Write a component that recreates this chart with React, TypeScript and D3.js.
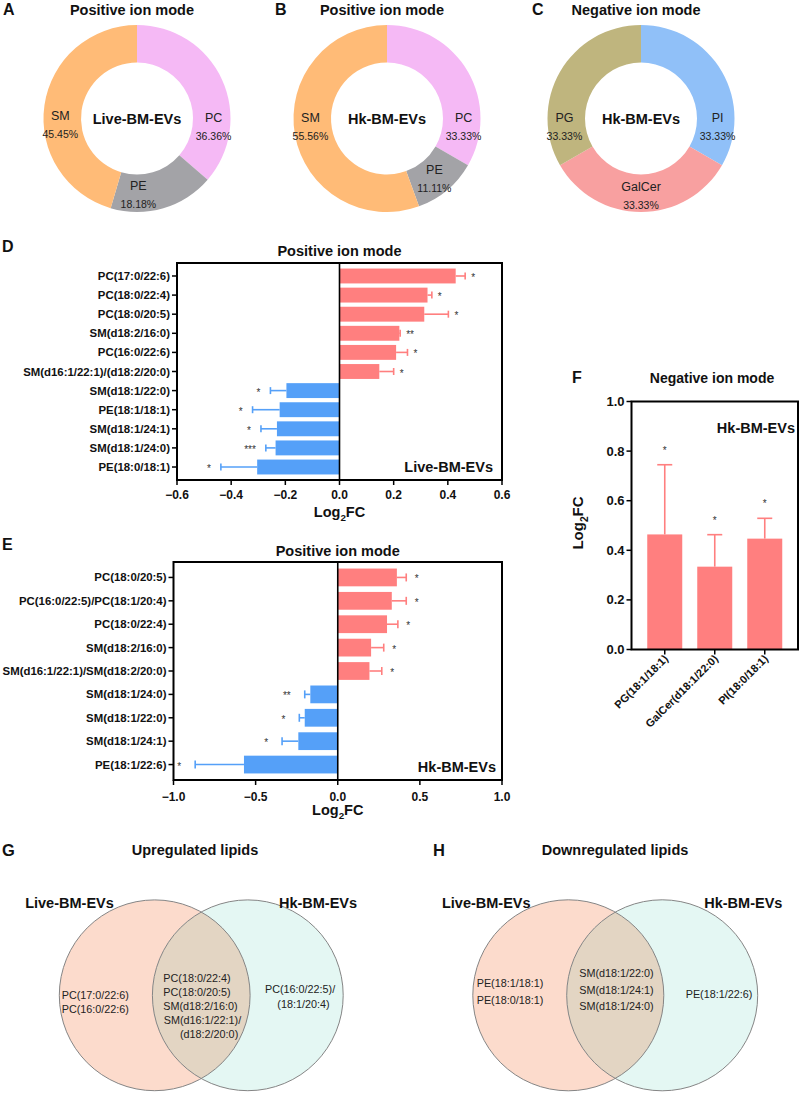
import React from 'react';
import * as d3 from 'd3';

const FONT = '"Liberation Sans", Arial, Helvetica, sans-serif';

// ---------- Donut data ----------
const donutACats = ['PC', 'PE', 'SM'];
const donutAValues = [36.36, 18.18, 45.45];
const donutBCats = ['PC', 'PE', 'SM'];
const donutBValues = [33.33, 11.11, 55.56];
const donutCCats = ['PI', 'GalCer', 'PG'];
const donutCValues = [33.33, 33.33, 33.33];

const classColors: Record<string, string> = {
  SM: '#FFBB77', PC: '#F5B9F5', PE: '#A3A3A7', PI: '#90C0F8', GalCer: '#F8A0A0', PG: '#BFB57E',
};

// ---------- Panel D data ----------
const catsD = ['PC(17:0/22:6)', 'PC(18:0/22:4)', 'PC(18:0/20:5)', 'SM(d18:2/16:0)', 'PC(16:0/22:6)',
  'SM(d16:1/22:1)/(d18:2/20:0)', 'SM(d18:1/22:0)', 'PE(18:1/18:1)', 'SM(d18:1/24:1)', 'SM(d18:1/24:0)', 'PE(18:0/18:1)'];
const valuesD = [0.429, 0.325, 0.313, 0.221, 0.209, 0.147, -0.196, -0.221, -0.231, -0.236, -0.304];
const errD = [0.035, 0.016, 0.089, 0.003, 0.042, 0.053, 0.059, 0.100, 0.059, 0.036, 0.134];
const sigD = ['*', '*', '*', '**', '*', '*', '*', '*', '*', '***', '*'];
const ticksD = [-0.6, -0.4, -0.2, 0.0, 0.2, 0.4, 0.6];

// ---------- Panel E data ----------
const catsE = ['PC(18:0/20:5)', 'PC(16:0/22:5)/PC(18:1/20:4)', 'PC(18:0/22:4)', 'SM(d18:2/16:0)',
  'SM(d16:1/22:1)/SM(d18:2/20:0)', 'SM(d18:1/24:0)', 'SM(d18:1/22:0)', 'SM(d18:1/24:1)', 'PE(18:1/22:6)'];
const valuesE = [0.36, 0.329, 0.30, 0.203, 0.193, -0.167, -0.201, -0.24, -0.571];
const errE = [0.057, 0.088, 0.066, 0.077, 0.075, 0.034, 0.033, 0.099, 0.297];
const sigE = ['*', '*', '*', '*', '*', '**', '*', '*', '*'];
const ticksE = [-1.0, -0.5, 0.0, 0.5, 1.0];

// ---------- Panel F data ----------
const catsF = ['PG(18:1/18:1)', 'GalCer(d18:1/22:0)', 'PI(18:0/18:1)'];
const valuesF = [0.464, 0.334, 0.447];
const errF = [0.281, 0.129, 0.082];
const sigF = ['*', '*', '*'];
const ticksF = [0.0, 0.2, 0.4, 0.6, 0.8, 1.0];

// ---------- Venn data ----------
const vennGLeft = ['PC(17:0/22:6)', 'PC(16:0/22:6)'];
const vennGBoth = ['PC(18:0/22:4)', 'PC(18:0/20:5)', 'SM(d18:2/16:0)', 'SM(d16:1/22:1)/', '(d18:2/20:0)'];
const vennGRight = ['PC(16:0/22:5)/', '(18:1/20:4)'];
const vennHLeft = ['PE(18:1/18:1)', 'PE(18:0/18:1)'];
const vennHBoth = ['SM(d18:1/22:0)', 'SM(d18:1/24:1)', 'SM(d18:1/24:0)'];
const vennHRight = ['PE(18:1/22:6)'];

const RED = '#FF7F7F';
const BLUE = '#55A0F8';
const TXT = '#111';

function Log2FC({ x, y, size, anchor = 'middle', transform }: any) {
  return (
    <text x={x} y={y} fontSize={size} fontWeight="bold" textAnchor={anchor} transform={transform} fill={TXT}>
      <tspan>Log</tspan>
      <tspan dy={size * 0.3} fontSize={size * 0.68}>2</tspan>
      <tspan dy={-size * 0.3}>FC</tspan>
    </text>
  );
}

function Donut({ cx, cy, cats, values, center, angles, title, letter, letterX }: any) {
  const pie = d3.pie<number>().sort(null).value((d) => d)(values);
  const arc = d3.arc<d3.PieArcDatum<number>>().innerRadius(56).outerRadius(93.5);
  const r = 77;
  return (
    <g>
      <text x={letterX} y={15} fontSize={16} fontWeight="bold" fill={TXT}>{letter}</text>
      <text x={cx - 5} y={15} fontSize={14.5} fontWeight="bold" textAnchor="middle" fill={TXT}>{title}</text>
      <g transform={`translate(${cx},${cy})`}>
        {pie.map((p, i) => (
          <path key={i} d={arc(p) as string} fill={classColors[cats[i]]} />
        ))}
        {pie.map((p, i) => {
          const a = (angles[i] * Math.PI) / 180;
          const x = r * Math.sin(a);
          const y = -r * Math.cos(a);
          return (
            <g key={'l' + i} fill="#222">
              <text x={x} y={y - 5} fontSize={12.5} textAnchor="middle">{cats[i]}</text>
              <text x={x} y={y + 13} fontSize={10.5} textAnchor="middle">{values[i].toFixed(2)}%</text>
            </g>
          );
        })}
        <text x={0} y={5} fontSize={14.5} fontWeight="bold" textAnchor="middle" fill={TXT}>{center}</text>
      </g>
    </g>
  );
}

function HBarPanel(props: any) {
  const { cats, values, errs, sigs, xDomain, xTicks, left, right, top, bottom, padInner, padOuter,
    title, titleY, letter, letterY, groupLabel, groupDx, capH, starPos, starNeg, tickLabelDy, axisTitleY } = props;
  const x = d3.scaleLinear().domain(xDomain).range([left, right]);
  const y = d3.scaleBand<string>().domain(cats).range([top, bottom]).paddingInner(padInner).paddingOuter(padOuter);
  const x0 = x(0);
  const bw = y.bandwidth();
  const fmt = d3.format('.1f');
  return (
    <g>
      <text x={2} y={letterY} fontSize={16} fontWeight="bold" fill={TXT}>{letter}</text>
      <text x={(left + right) / 2} y={titleY} fontSize={14.5} fontWeight="bold" textAnchor="middle" fill={TXT}>{title}</text>
      {cats.map((c: string, i: number) => {
        const v = values[i];
        const xv = x(v);
        const sgn = v >= 0 ? 1 : -1;
        const xe = x(v + sgn * errs[i]);
        const yc = (y(c) as number) + bw / 2;
        const col = v >= 0 ? RED : BLUE;
        return (
          <g key={c}>
            <rect x={Math.min(x0, xv)} y={y(c)} width={Math.abs(xv - x0)} height={bw} fill={col} />
            <line x1={xv} x2={xe} y1={yc} y2={yc} stroke={col} strokeWidth={1.6} />
            <line x1={xe} x2={xe} y1={yc - capH / 2} y2={yc + capH / 2} stroke={col} strokeWidth={1.6} />
            <text x={v >= 0 ? xe + starPos : xe - starNeg} y={yc + 5} fontSize={10} textAnchor={v >= 0 ? 'start' : 'end'} fill="#333">{sigs[i]}</text>
            <line x1={left - 5} x2={left} y1={yc} y2={yc} stroke="#000" strokeWidth={1.5} />
            <text x={left - 7} y={yc + 4} fontSize={11.4} fontWeight="bold" textAnchor="end" fill={TXT}>{c}</text>
          </g>
        );
      })}
      <line x1={x0} x2={x0} y1={top} y2={bottom} stroke="#000" strokeWidth={1.6} />
      <rect x={left} y={top} width={right - left} height={bottom - top} fill="none" stroke="#000" strokeWidth={2} />
      {xTicks.map((t: number) => (
        <g key={t}>
          <line x1={x(t)} x2={x(t)} y1={bottom} y2={bottom + 5} stroke="#000" strokeWidth={1.5} />
          <text x={x(t)} y={bottom + tickLabelDy} fontSize={12} fontWeight="bold" textAnchor="middle" fill={TXT}>{fmt(t)}</text>
        </g>
      ))}
      <text x={right - groupDx} y={bottom - 8} fontSize={14.5} fontWeight="bold" textAnchor="end" fill={TXT}>{groupLabel}</text>
      <Log2FC x={(left + right) / 2} y={axisTitleY} size={14.5} />
    </g>
  );
}

function FPanel() {
  const left = 631.5, right = 798, top = 401.5, bottom = 649.5;
  const y = d3.scaleLinear().domain([0, 1]).range([bottom, top]);
  const x = d3.scaleBand<string>().domain(catsF).range([left, right]).paddingInner(0.3).paddingOuter(0.315);
  const bw = x.bandwidth();
  const fmt = d3.format('.1f');
  return (
    <g>
      <text x={572} y={383} fontSize={16} fontWeight="bold" fill={TXT}>F</text>
      <text x={712} y={383} fontSize={14} fontWeight="bold" textAnchor="middle" fill={TXT}>Negative ion mode</text>
      {catsF.map((c, i) => {
        const xc = (x(c) as number) + bw / 2;
        const yt = y(valuesF[i] + errF[i]);
        return (
          <g key={c}>
            <rect x={x(c)} y={y(valuesF[i])} width={bw} height={bottom - y(valuesF[i])} fill={RED} />
            <line x1={xc} x2={xc} y1={y(valuesF[i])} y2={yt} stroke={RED} strokeWidth={1.6} />
            <line x1={xc - 7.5} x2={xc + 7.5} y1={yt} y2={yt} stroke={RED} strokeWidth={1.6} />
            <text x={xc} y={yt - 11} fontSize={10} textAnchor="middle" fill="#333">{sigF[i]}</text>
            <line x1={xc} x2={xc} y1={bottom} y2={bottom + 5} stroke="#000" strokeWidth={1.5} />
            <text transform={`translate(${xc + 4},${bottom + 10}) rotate(-45)`} fontSize={11} fontWeight="bold" textAnchor="end" fill={TXT}>{c}</text>
          </g>
        );
      })}
      <rect x={left} y={top} width={right - left} height={bottom - top} fill="none" stroke="#000" strokeWidth={2} />
      {ticksF.map((t) => (
        <g key={t}>
          <line x1={left - 5} x2={left} y1={y(t)} y2={y(t)} stroke="#000" strokeWidth={1.5} />
          <text x={left - 7} y={y(t) + 4.5} fontSize={13} fontWeight="bold" textAnchor="end" fill={TXT}>{fmt(t)}</text>
        </g>
      ))}
      <text x={795} y={433} fontSize={14.5} fontWeight="bold" textAnchor="end" fill={TXT}>Hk-BM-EVs</text>
      <Log2FC x={0} y={0} size={15} transform="translate(583,523) rotate(-90)" />
    </g>
  );
}

function Venn(props: any) {
  const { id, cxL, cxR, cy, r, title, titleX, letter, letterX, labL, labR, blocks } = props;
  return (
    <g>
      <text x={letterX} y={856} fontSize={16.5} fontWeight="bold" fill={TXT}>{letter}</text>
      <text x={titleX} y={855} fontSize={14.5} fontWeight="bold" textAnchor="middle" fill={TXT}>{title}</text>
      <defs>
        <clipPath id={id}>
          <circle cx={cxL} cy={cy} r={r} />
        </clipPath>
      </defs>
      <circle cx={cxL} cy={cy} r={r} fill="#FCDBCC" />
      <circle cx={cxR} cy={cy} r={r} fill="#E4F7F3" />
      <circle cx={cxR} cy={cy} r={r} fill="#E3D5C3" clipPath={`url(#${id})`} />
      <circle cx={cxL} cy={cy} r={r} fill="none" stroke="#858585" strokeWidth={1} />
      <circle cx={cxR} cy={cy} r={r} fill="none" stroke="#858585" strokeWidth={1} />
      <text x={labL} y={908} fontSize={14.5} fontWeight="bold" textAnchor="middle" fill={TXT}>Live-BM-EVs</text>
      <text x={labR} y={908} fontSize={14.5} fontWeight="bold" textAnchor="middle" fill={TXT}>Hk-BM-EVs</text>
      {blocks.map((b: any, bi: number) =>
        b.lines.map((ln: string, li: number) => (
          <text key={bi + '-' + li} x={b.x + (b.indent[li] || 0)} y={b.y + li * b.lh + 4} fontSize={10.8} fill="#222">{ln}</text>
        )),
      )}
    </g>
  );
}

export default function App() {
  return (
    <svg width={800} height={1093} style={{ position: 'absolute', left: 0, top: 0, fontFamily: FONT, background: '#fff' }}>
      <rect x={0} y={0} width={800} height={1093} fill="#fff" />
      <Donut cx={137} cy={118.5} cats={donutACats} values={donutAValues} center="Live-BM-EVs"
        angles={[96, 179, 265]} title="Positive ion mode" letter="A" letterX={3} />
      <Donut cx={387} cy={118.5} cats={donutBCats} values={donutBValues} center="Hk-BM-EVs"
        angles={[96, 142, 264]} title="Positive ion mode" letter="B" letterX={275} />
      <Donut cx={641} cy={118.5} cats={donutCCats} values={donutCValues} center="Hk-BM-EVs"
        angles={[96, 180, 264]} title="Negative ion mode" letter="C" letterX={532} />

      <HBarPanel cats={catsD} values={valuesD} errs={errD} sigs={sigD} xDomain={[-0.6, 0.6]} xTicks={ticksD}
        left={177} right={502} top={263} bottom={480} padInner={0.22} padOuter={0.29}
        title="Positive ion mode" titleY={256} letter="D" letterY={252} groupLabel="Live-BM-EVs" groupDx={9}
        capH={7} starPos={6} starNeg={10} tickLabelDy={19} axisTitleY={517} />
      <HBarPanel cats={catsE} values={valuesE} errs={errE} sigs={sigE} xDomain={[-1, 1]} xTicks={ticksE}
        left={173.5} right={502} top={562} bottom={780} padInner={0.24} padOuter={0.28}
        title="Positive ion mode" titleY={556} letter="E" letterY={550} groupLabel="Hk-BM-EVs" groupDx={6}
        capH={8} starPos={8.5} starNeg={14} tickLabelDy={21} axisTitleY={815} />
      <FPanel />

      <Venn id="clipG" cxL={154.7} cxR={247.8} cy={995.3} r={95.4} title="Upregulated lipids" titleX={195}
        letter="G" letterX={2} labL={69.5} labR={318}
        blocks={[
          { lines: vennGLeft, x: 61.7, y: 995, lh: 14, indent: [] },
          { lines: vennGBoth, x: 163.3, y: 978.3, lh: 14, indent: [0, 0, 0, 0.5, 16.7] },
          { lines: vennGRight, x: 265, y: 989.3, lh: 14.7, indent: [0, 12.3] },
        ]} />
      <Venn id="clipH" cxL={568.3} cxR={662.2} cy={995.3} r={95.5} title="Downregulated lipids" titleX={615}
        letter="H" letterX={433} labL={486.3} labR={743.3}
        blocks={[
          { lines: vennHLeft, x: 476.7, y: 983.3, lh: 16.7, indent: [] },
          { lines: vennHBoth, x: 579.3, y: 973.3, lh: 16.4, indent: [] },
          { lines: vennHRight, x: 685.7, y: 994.3, lh: 16, indent: [] },
        ]} />
    </svg>
  );
}
